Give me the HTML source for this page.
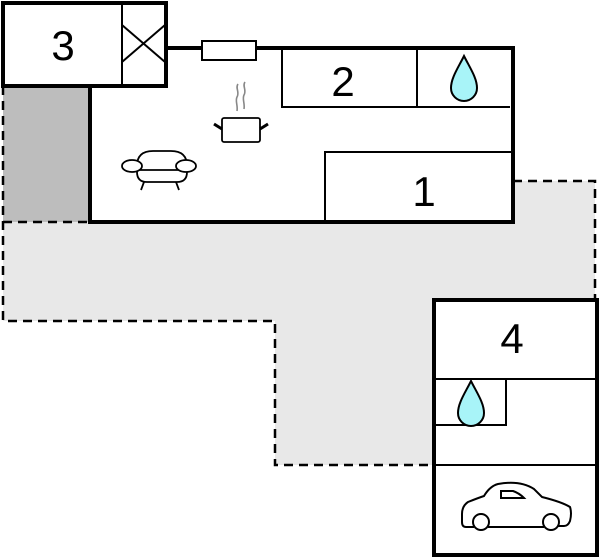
<!DOCTYPE html>
<html><head><style>html,body{margin:0;padding:0;background:#fff}svg{display:block}</style></head>
<body>
<svg width="600" height="557" viewBox="0 0 600 557" xmlns="http://www.w3.org/2000/svg">
<polygon points="3,222 513,222 513,181 595,181 595,300 434,300 434,465 275,465 275,321 3,321" fill="#e8e8e8"/>
<rect x="3" y="86" width="87" height="136" fill="#bdbdbd"/>
<g stroke="#000" stroke-width="2.5" stroke-dasharray="9,6" fill="none">
<polyline points="3,86 3,321 275,321 275,465 434,465"/>
<line x1="3" y1="222" x2="90" y2="222"/>
<polyline points="513,181 595,181 595,300"/>
</g>
<rect x="90" y="48" width="423" height="174" fill="#fff"/>
<g stroke="#000" stroke-width="4" fill="none">
<polyline points="166,48 513,48 513,222 90,222 90,86"/>
</g>
<rect x="202" y="41" width="54" height="19" fill="#fff" stroke="#000" stroke-width="2"/>
<g stroke="#000" stroke-width="2" fill="none">
<polyline points="282,48 282,107 510,107"/>
<line x1="417" y1="50" x2="417" y2="107"/>
<polyline points="325,220 325,152 511,152"/>
</g>
<rect x="3" y="3" width="163" height="83" fill="#fff" stroke="#000" stroke-width="4"/>
<g stroke="#000" stroke-width="2" fill="none">
<line x1="122" y1="5" x2="122" y2="86"/>
<line x1="122" y1="25" x2="165" y2="62"/>
<line x1="122" y1="62" x2="165" y2="25"/>
</g>
<line x1="3" y1="86" x2="92" y2="86" stroke="#000" stroke-width="4"/>
<rect x="434" y="300" width="163" height="255" fill="#fff" stroke="#000" stroke-width="4"/>
<g stroke="#000" stroke-width="2" fill="none">
<line x1="434" y1="379" x2="596" y2="379"/>
<polyline points="436,425 506,425 506,379"/>
<line x1="434" y1="465" x2="596" y2="465"/>
</g>
<path d="M464,56 C470,68 477,78 477,88 A9,9 0 0 1 451,88 C451,78 458,68 464,56 Z" fill="#a8f4f8" stroke="#000" stroke-width="2"/>
<path d="M471,381 C477,393 484,403 484,413 A9,9 0 0 1 458,413 C458,403 465,393 471,381 Z" fill="#a8f4f8" stroke="#000" stroke-width="2"/>
<g stroke="#888" stroke-width="1.6" fill="none">
<path d="M238,84 c-3,4 2,8 -1,13 c-2,4 1,8 0,14"/>
<path d="M245,82 c-3,4 2,8 -1,13 c-2,4 1,8 0,14"/>
</g>
<rect x="222" y="118" width="38" height="24" rx="2" fill="#fff" stroke="#000" stroke-width="1.8"/>
<line x1="214" y1="124" x2="222" y2="129" stroke="#000" stroke-width="3"/>
<line x1="268" y1="124" x2="260" y2="129" stroke="#000" stroke-width="3"/>
<g stroke="#000" stroke-width="1.8" fill="#fff">
<path d="M137,166 q0,-15 16,-15 h18 q16,0 16,15 v6 q0,10 -10,10 h-30 q-10,0 -10,-10 z"/>
<line x1="137" y1="170" x2="187" y2="170"/>
<ellipse cx="132" cy="166" rx="10" ry="6"/>
<ellipse cx="186" cy="166" rx="10" ry="6"/>
<line x1="144" y1="182" x2="141" y2="190"/>
<line x1="176" y1="182" x2="179" y2="190"/>
</g>
<g stroke="#000" stroke-width="2" fill="none">
<path d="M474,527 h-8 q-4,0 -4,-5 v-8 q0,-8 6,-12 q10,-4 16,-6 q6,-10 14,-12 q22,-4 36,5 q5,5 8,8 q20,5 28,10 q2,6 0,14 q-2,5 -6,5 h-6"/>
<line x1="488" y1="527" x2="544" y2="527"/>
<circle cx="481" cy="522" r="8" fill="#fff"/>
<circle cx="551" cy="522" r="8" fill="#fff"/>
<path d="M501,491 h12 q6,2 11,7 h-23 z"/>
</g>
<g font-family="Liberation Sans, sans-serif" font-size="42" fill="#000" text-anchor="middle">
<text x="63" y="60">3</text>
<text x="343" y="96">2</text>
<text x="424" y="206">1</text>
<text x="512" y="353">4</text>
</g>
</svg>
</body></html>
